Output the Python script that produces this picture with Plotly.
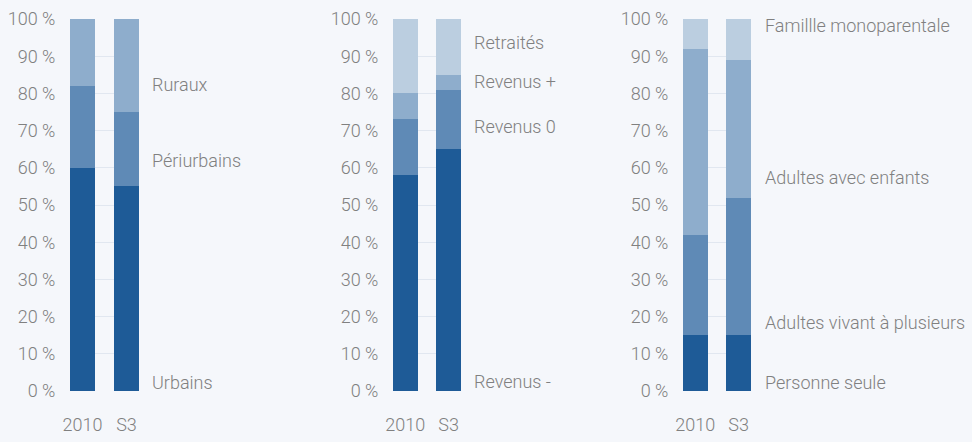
import plotly.graph_objects as go

years = ["2010", "S3"]

# Panel 1
p1_series = ["Urbains", "Périurbains", "Ruraux"]
p1_values = [[60, 55], [22, 20], [18, 25]]
p1_label_y = [2.4, 62.0, 82.3]

# Panel 2
p2_series = ["Revenus -", "Revenus 0", "Revenus +", "Retraités"]
p2_values = [[58, 65], [15, 16], [7, 4], [20, 15]]
p2_label_y = [2.6, 71.2, 83.2, 93.7]

# Panel 3
p3_series = ["Personne seule", "Adultes vivant à plusieurs", "Adultes avec enfants", "Famillle monoparentale"]
p3_values = [[15, 15], [27, 37], [50, 37], [8, 11]]
p3_label_y = [2.4, 18.5, 57.5, 98.2]

y_ticks = list(range(0, 101, 10))
y_ticktext = [f"{v} %" for v in y_ticks]

colors3 = ["#1e5b97", "#5f8ab6", "#8eadcc"]
colors4 = ["#1e5b97", "#5f8ab6", "#8eadcc", "#bbcee0"]

W, H = 972, 442
FONT = "Roboto"
TXT = "#808080"
BG = "#f5f7fb"

panels = [
    (p1_series, p1_values, p1_label_y, colors3, (70, 139), 150),
    (p2_series, p2_values, p2_label_y, colors4, (393, 461), 472),
    (p3_series, p3_values, p3_label_y, colors4, (683, 751), 763),
]

fig = go.Figure()
ytop, ybot = 19, 391
ydom = [(H - ybot) / H, (H - ytop) / H]

annotations = []
for i, (names, vals, ly, cols, (x0, x1), lx) in enumerate(panels):
    sfx = "" if i == 0 else str(i + 1)
    for name, v, c in zip(names, vals, cols):
        fig.add_trace(go.Bar(x=[0, 1], y=v, name=name, marker=dict(color=c, line=dict(width=0)),
                             xaxis="x" + sfx, yaxis="y" + sfx, showlegend=False,
                             width=0.568))
    fig.update_layout(**{
        "xaxis" + sfx: dict(domain=[x0 / W, x1 / W], range=[-0.284, 1.284], tickvals=[0, 1], ticktext=years,
                            showgrid=False, zeroline=False, showline=False, ticks="outside", ticklen=17,
                            tickcolor="rgba(0,0,0,0)", anchor="y" + sfx, automargin=False,
                            tickfont=dict(family=FONT, size=18, color=TXT, weight=300)),
        "yaxis" + sfx: dict(domain=ydom, range=[0, 100], tickvals=y_ticks, ticktext=y_ticktext,
                            showgrid=True, gridcolor="#e1e7f0", gridwidth=1, zeroline=False, showline=False,
                            ticks="outside", ticklen=10, tickcolor="rgba(0,0,0,0)", anchor="x" + sfx,
                            automargin=False,
                            tickfont=dict(family=FONT, size=18, color=TXT, weight=300)),
    })
    for name, yy in zip(names, ly):
        annotations.append(dict(x=lx / W, xref="paper", y=yy, yref="y" + sfx, text=name,
                                showarrow=False, xanchor="left", yanchor="middle",
                                font=dict(family=FONT, size=18, color=TXT, weight=300)))

fig.update_layout(width=W, height=H, barmode="stack", paper_bgcolor=BG, plot_bgcolor=BG,
                  margin=dict(l=0, r=0, t=0, b=0, autoexpand=False), annotations=annotations,
                  hovermode=False)

fig.write_html("out.html", config={"displayModeBar": False},
               post_script="document.body.style.margin='0';document.body.style.overflow='hidden';")
